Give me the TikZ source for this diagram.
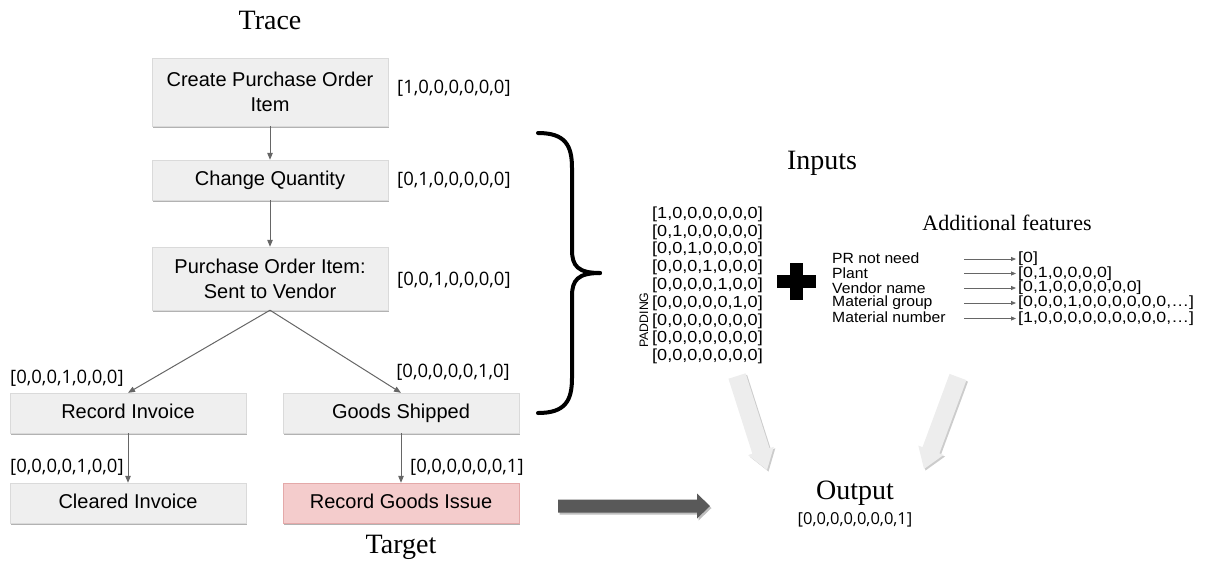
\documentclass[tikz,border=0pt]{standalone}
\usepackage{fontspec}
\setmainfont{Liberation Serif}
\newfontfamily\boxfont{Liberation Sans}
\newfontfamily\vecfont{Open Sans}
\usetikzlibrary{arrows.meta,shadows,calc}
\definecolor{boxfill}{HTML}{EFEFEF}
\definecolor{boxline}{HTML}{DADADA}
\definecolor{targetfill}{HTML}{F4CCCC}
\definecolor{targetline}{HTML}{E4A9A9}
\definecolor{linkgray}{HTML}{666666}
\definecolor{bigarrow}{HTML}{595959}
\definecolor{softarrow}{HTML}{EDEDED}

% horizontally widened text
\newcommand\wide[2]{\scalebox{#1}[1]{#2}}

% block arrow: style, from, to, half shaft width, half head width, head length
\newcommand\blockarrow[6]{%
  \path ($(#3)!#6!(#2)$) coordinate (ba-h);
  \fill[#1] ($(#2)!#4!90:(#3)$) -- ($(ba-h)!#4!-90:(#2)$) -- ($(ba-h)!#5!-90:(#2)$)
    -- (#3) -- ($(ba-h)!#5!90:(#2)$) -- ($(ba-h)!#4!90:(#2)$) -- ($(#2)!#4!-90:(#3)$) -- cycle;
}

\begin{document}
\begin{tikzpicture}[x=1pt,y=-1pt,
  stepbox/.style={rectangle, fill=boxfill, draw=boxline, line width=0.4pt,
    minimum width=236pt, inner sep=0pt, align=center,
    font=\boxfont\fontsize{20}{25}\selectfont,
    drop shadow={shadow xshift=0.8pt, shadow yshift=-2pt, opacity=0.3, fill=black}},
  oneline/.style={minimum height=40pt, text height=14.3pt, text depth=4.2pt},
  targetbox/.style={fill=targetfill, draw=targetline},
  title/.style={inner sep=0pt, font=\fontsize{28}{32}\selectfont},
  vec/.style={inner sep=0pt, font=\vecfont\fontsize{18.5}{20}\selectfont},
  feat/.style={inner sep=0pt, anchor=west, font=\boxfont\fontsize{14.8}{16}\selectfont},
  featvec/.style={inner sep=0pt, anchor=west, font=\boxfont\fontsize{14.8}{16}\selectfont},
  link/.style={draw=linkgray, line width=1pt, -{Triangle[length=7pt,width=5.5pt]}},
  featlink/.style={draw=linkgray, line width=0.8pt, -{Triangle[length=5pt,width=4pt]}},
  brace/.style={draw=black, line width=4pt, line cap=round}
]
\useasboundingbox (0,0) rectangle (1214,563);

% ---- trace of activities ----
\node[title] (trace) at (270,20) {Trace};
\node[stepbox, minimum height=68pt] (create) at (270,92) {Create Purchase Order\\Item};
\node[stepbox, oneline] (change) at (270,180) {Change Quantity};
\node[stepbox, minimum height=63pt] (sent) at (270,278.5) {Purchase Order Item:\\Sent to Vendor};
\node[stepbox, oneline] (invoice) at (128,413) {Record Invoice};
\node[stepbox, oneline] (shipped) at (401,413) {Goods Shipped};
\node[stepbox, oneline] (cleared) at (128,503) {Cleared Invoice};
\node[stepbox, oneline, targetbox] (issue) at (401,503) {Record Goods Issue};
\node[title] (target) at (401,547) {Target};

% one-hot encodings of the activities
\node[vec, anchor=west] (e1) at (397,88) {[1,0,0,0,0,0,0]};
\node[vec, anchor=west] (e2) at (397,180) {[0,1,0,0,0,0,0]};
\node[vec, anchor=west] (e3) at (397,280) {[0,0,1,0,0,0,0]};
\node[vec, anchor=west] (e4) at (10,378) {[0,0,0,1,0,0,0]};
\node[vec, anchor=east] (e5) at (510,372) {[0,0,0,0,0,1,0]};
\node[vec, anchor=west] (e6) at (10,467) {[0,0,0,0,1,0,0]};
\node[vec, anchor=west] (e7) at (410,467) {[0,0,0,0,0,0,1]};

\draw[link] (create.south) -- (change.north);
\draw[link] (change.south) -- (sent.north);
\draw[link] (sent.south) -- (invoice.north);
\draw[link] (sent.south) -- (shipped.north);
\draw[link] (invoice.south) -- (cleared.north);
\draw[link] (shipped.south) -- (issue.north);

% ---- curly brace ----
\draw[brace] (538,133) .. controls (565,133) and (572,145) .. (572,168) -- (572,250)
  .. controls (572,266) and (578,273) .. (600,273);
\draw[brace] (600,273) .. controls (578,273) and (572,280) .. (572,296) -- (572,378)
  .. controls (572,401) and (565,413) .. (538,413);

% ---- inputs ----
\node[title] (inputs) at (822,163) {Inputs};
\node[inner sep=0pt, anchor=west, font=\boxfont\fontsize{16}{17.8}\selectfont]
  (stack) at (652,286) {\wide{1.13}{\begin{tabular}{@{}l@{}}
    [1,0,0,0,0,0,0]\\{}[0,1,0,0,0,0,0]\\{}[0,0,1,0,0,0,0]\\{}[0,0,0,1,0,0,0]\\{}[0,0,0,0,1,0,0]\\{}%
    [0,0,0,0,0,1,0]\\{}[0,0,0,0,0,0,0]\\{}[0,0,0,0,0,0,0]\\{}[0,0,0,0,0,0,0]
  \end{tabular}}};
\node[inner sep=0pt, rotate=90, font=\boxfont\fontsize{12.3}{13}\selectfont] (padding) at (644,320) {PADDING};

% plus sign
\fill[black] (777,275) rectangle (816,288);
\fill[black] (790,263) rectangle (803,300);

\node[inner sep=0pt, font=\fontsize{22}{24}\selectfont] (additional) at (1007,223) {Additional features};

\node[feat] (f1) at (832,258) {\wide{1.06}{PR not need}};
\node[feat] (f2) at (832,273) {\wide{1.06}{Plant}};
\node[feat] (f3) at (832,288) {\wide{1.06}{Vendor name}};
\node[feat] (f4) at (832,302.5) {\wide{1.06}{Material group}};
\node[feat] (f5) at (832,317) {\wide{1.06}{Material number}};

\node[featvec] (v1) at (1018,259) {\wide{1.2}{[0]}};
\node[featvec] (v2) at (1018,273.5) {\wide{1.2}{[0,1,0,0,0,0]}};
\node[featvec] (v3) at (1018,288) {\wide{1.2}{[0,1,0,0,0,0,0,0]}};
\node[featvec] (v4) at (1018,303) {\wide{1.2}{[0,0,0,1,0,0,0,0,0,0,…]}};
\node[featvec] (v5) at (1018,318.5) {\wide{1.2}{[1,0,0,0,0,0,0,0,0,0,…]}};

\foreach \i in {1,...,5} {
  \coordinate (s\i) at ($(v\i.west)+(-54,0)$);
  \draw[featlink] (s\i) -- ($(v\i.west)+(-2,0)$);
}

% ---- output ----
\node[title] (output) at (855,493) {Output};
\node[inner sep=0pt, font=\vecfont\fontsize{16.5}{18}\selectfont] (outvec) at (855,520) {[0,0,0,0,0,0,0,1]};

% soft arrows from the inputs to the output
\coordinate (la) at (737,376);
\coordinate (lb) at (767,470);
\coordinate (ra) at (958,377);
\coordinate (rb) at (924,469);
\coordinate (la') at ($(la)+(1.5,1.5)$);
\coordinate (lb') at ($(lb)+(1.5,1.5)$);
\coordinate (ra') at ($(ra)+(1.5,1.5)$);
\coordinate (rb') at ($(rb)+(1.5,1.5)$);
\blockarrow{black!20}{la'}{lb'}{9pt}{13.5pt}{20pt}
\blockarrow{softarrow}{la}{lb}{9pt}{13.5pt}{20pt}
\blockarrow{black!20}{ra'}{rb'}{9pt}{13.5pt}{20pt}
\blockarrow{softarrow}{ra}{rb}{9pt}{13.5pt}{20pt}

% dark arrow from the target to the output
\coordinate (da) at (558,506);
\coordinate (db) at (710,506);
\coordinate (da') at ($(da)+(1.5,2)$);
\coordinate (db') at ($(db)+(1.5,2)$);
\blockarrow{black!25}{da'}{db'}{6.5pt}{12.5pt}{13pt}
\blockarrow{bigarrow}{da}{db}{6.5pt}{12.5pt}{13pt}
\end{tikzpicture}
\end{document}
